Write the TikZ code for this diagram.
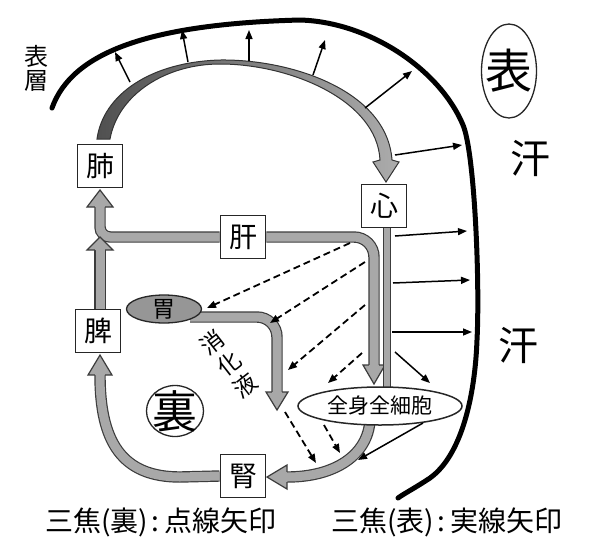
\documentclass[tikz,border=0pt]{standalone}
\usepackage{fontspec}
\setmainfont{Noto Sans CJK JP}
\usetikzlibrary{shapes.geometric,arrows.meta,calc}
\pgfdeclarelayer{bg}
\pgfsetlayers{bg,main}
\definecolor{bandfill}{RGB}{168,168,168}
\definecolor{bandedge}{RGB}{60,60,60}
\definecolor{arcdark}{RGB}{80,80,80}
\definecolor{arclight}{RGB}{172,172,172}
\definecolor{stomachfill}{RGB}{150,150,150}
\newcommand\hdv[4]{\filldraw[headst] (#1-5.1,#2) -- (#1-#4,#2) -- (#1,#3) -- (#1+#4,#2) -- (#1+5.1,#2);}
\newcommand\hdh[4]{\filldraw[headst] (#1,#2-5.1) -- (#1,#2-#4) -- (#3,#2) -- (#1,#2+#4) -- (#1,#2+5.1);}
\newcommand\vch[1]{\rotatebox{90}{#1}}
\tikzset{
  box/.style={draw=black!85, line width=1.8pt, fill=white, minimum width=45pt, minimum height=43pt, inner sep=0pt, font=\fontsize{28}{30}\selectfont},
  band/.style={draw=bandedge, line width=1.2pt, double=bandfill, double distance=9pt},
  thinband/.style={draw=bandedge, line width=1.2pt, double=bandfill, double distance=6.5pt},
  headst/.style={fill=bandfill, draw=bandedge, line width=1.2pt, line join=miter},
  thinarrow/.style={line width=1.5pt, -{Triangle[length=9pt,width=7pt]}},
  dasharrow/.style={line width=1.8pt, dash pattern=on 7pt off 4pt, -{Triangle[length=9pt,width=7pt]}},
  skin/.style={line width=5pt, line cap=round},
  ring/.style={draw=black!85, line width=1.3pt, ellipse, inner sep=0pt},
  legend/.style={font=\fontsize{28}{28}\selectfont, inner sep=0pt},
}
\begin{document}
\begin{tikzpicture}[x=1pt,y=-1pt]
\useasboundingbox (0,0) rectangle (600,558);
\begin{pgfonlayer}{bg}
\fill[white] (0,0) rectangle (600,558);
\end{pgfonlayer}

% outer skin line
\draw[skin] (52,108) .. controls (72,52) and (150,24) .. (300,20)
  .. controls (370,22) and (440,70) .. (463,125)
  .. controls (474.5,152.5) and (480,280) .. (477,340)
  .. controls (475,395) and (462,455) .. (430,478)
  .. controls (415,488) and (405,493) .. (398,498);
\node[font=\fontsize{24}{24}\selectfont, align=center, inner sep=0pt] (hyoso) at (36,68) {表\\層};

% nodes
\node[box] (lung) at (100,166) {肺};
\node[box] (liver) at (243,237) {肝};
\node[box] (heart) at (384,206) {心};
\node[box] (spleen) at (98,331) {脾};
\node[box] (kidney) at (243,476) {腎};
\node[ring, fill=stomachfill, minimum width=75pt, minimum height=28pt] (stomach) at (164,309) {};
\node[font=\fontsize{23}{24}\selectfont, inner sep=0pt] (stomachlabel) at (stomach) {胃};
\node[ring, fill=white, line width=1.5pt, minimum width=164pt, minimum height=38pt] (cells) at (380,406) {};
\node[font=\fontsize{21}{22}\selectfont, inner sep=0pt] (cellslabel) at (cells) {全身全細胞};
\node[ring, minimum width=57pt, minimum height=51pt] (ura) at (175,411) {};
\node[font=\fontsize{45}{46}\selectfont, inner sep=0pt] (uralabel) at (ura) {裏};
\node[ring, minimum width=55pt, minimum height=94pt] (omote) at (509,71) {};
\node[font=\fontsize{47}{48}\selectfont, inner sep=0pt] (omotelabel) at (omote) {表};
\node[font=\fontsize{40}{40}\selectfont, inner sep=0pt] (sweatA) at (530,158) {汗};
\node[font=\fontsize{40}{40}\selectfont, inner sep=0pt] (sweatB) at (518,345) {汗};
\node[font=\fontsize{23}{24}\selectfont, inner sep=0pt, rotate=-52] (shoka) at (229,364) {\vch{消}\kern6pt\vch{化}\kern6pt\vch{液}};
\node[legend] (legendA) at (161,522) {三焦(裏)\kern3pt:\kern6pt点線矢印};
\node[legend] (legendB) at (447,522) {三焦(表)\kern3pt:\kern6pt実線矢印};

\begin{pgfonlayer}{bg}
% big curved arrow lung -> heart
\draw[draw=black!80, line width=1pt, left color=arcdark, right color=arclight]
  (97,139) .. controls (103,95) and (150,62) .. (220,60)
  .. controls (290,59) and (387,90) .. (392,160)
  -- (399,162) -- (386,182) -- (373,162) -- (380,160)
  .. controls (377,100) and (290,64) .. (220,64)
  .. controls (165,64) and (118,95) .. (110,139) -- cycle;

% liver -> lung
\draw[band, rounded corners=10pt] (liver.west) -- (100,237) -- (100,207);
\hdv{100}{207}{190}{13}
% spleen -> junction
\draw[band] (spleen.north) ++(2,0) -- (100,250);
\hdv{100}{250}{237}{13}
% liver -> cells
\draw[band, rounded corners=20pt] (liver.east) -- (374,237) -- (374,365);
\hdv{374}{365}{384}{11}
% heart -> cells
\draw[thinband] ($(heart.south)+(3,0)$) -- ($(cells.north)+(7,3)$);
% stomach -> down (digestive juice)
\draw[band, rounded corners=20pt] (190,317) -- (277,317) -- (277,392);
\hdv{277}{392}{410}{11}
% cells -> kidney
\draw[band] (370,420) .. controls (368,455) and (335,477) .. (287,477);
\hdh{287}{477}{267}{12}
% kidney -> spleen
\draw[band] (kidney.west) -- (180,477) .. controls (122,477) and (100,442) .. (100,375);
\hdv{100}{375}{355}{12}
\end{pgfonlayer}

% solid thin arrows (outer san-jiao)
\draw[thinarrow] (130,82) -- (115,52);
\draw[thinarrow] (188,62) -- (182,30);
\draw[thinarrow] (249,61) -- (249,30);
\draw[thinarrow] (313,75) -- (325,40);
\draw[thinarrow] (365,108) -- (412,71);
\draw[thinarrow] (395,155) -- (462,145);
\draw[thinarrow] (395,236) -- (467,231);
\draw[thinarrow] (393,283) -- (470,280);
\draw[thinarrow] (392,332) -- (472,332);
\draw[thinarrow] (395,352) -- (430,383);
\draw[thinarrow] (423,423) -- (358,460);

% dashed arrows (inner san-jiao)
\draw[dasharrow] (350,243) -- (207,308);
\draw[dasharrow] (365,262) -- (270,323);
\draw[dasharrow] (365,305) -- (288,370);
\draw[dasharrow] (362,353) -- (328,383);
\draw[dasharrow] (285,412) -- (316,463);
\draw[dasharrow] (324,425) -- (340,453);
\end{tikzpicture}
\end{document}
